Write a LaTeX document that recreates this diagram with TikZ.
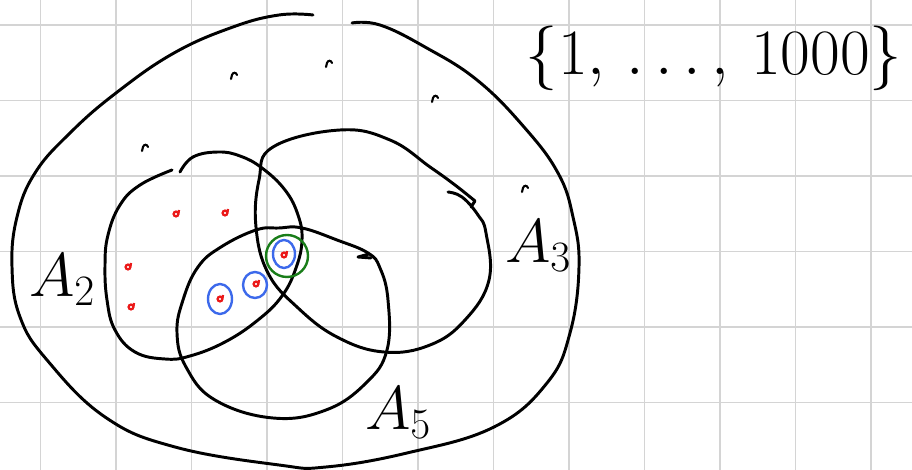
\RequirePackage{fix-cm}
\documentclass[tikz,border=0pt]{standalone}
\definecolor{penblue}{RGB}{60,105,235}
\definecolor{pengreen}{RGB}{25,125,25}
\definecolor{penred}{RGB}{235,25,25}
\definecolor{gridgray}{RGB}{212,212,212}
\begin{document}
\begin{tikzpicture}[x=0.25mm,y=-0.25mm,
  pen/.style={line width=2.1pt, line cap=round, line join=round},
  gridline/.style={draw=gridgray, line width=1.3pt},
  elemmark/.style={line width=1.5pt, line cap=round},
  redmark/.style={draw=penred, line width=1.6pt},
  bluering/.style={draw=penblue, line width=1.7pt},
  greenring/.style={draw=pengreen, line width=1.7pt},
  setlabel/.style={inner sep=0pt, font=\fontsize{44}{48}\selectfont}]
\useasboundingbox (0,0) rectangle (912,470);
\fill[white] (0,0) rectangle (912,470);
\foreach \gx in {0,...,11} \draw[gridline] (40.5+75.5*\gx,0) -- (40.5+75.5*\gx,470);
\foreach \gy in {0,...,5} \draw[gridline] (0,25+75.5*\gy) -- (912,25+75.5*\gy);
\draw[pen] plot[smooth, tension=0.7] coordinates {(352,23) (380,25) (425,47) (477,80) (524,127) (558,173) (573,217) (579,267) (570,333) (547,383) (494,427) (407,453) (326,467) (279,465) (175,447) (105,417) (47,360) (20,317) (12,267) (17,217) (35,173) (70,133) (116,93) (174,53) (233,27) (279,15) (313,15)};
\draw[pen] plot[smooth, tension=0.7] coordinates {(180,172) (193,157) (218,152) (240,156) (262,168) (285,190) (298,215) (302,240) (296,268) (282,296) (258,320) (225,342) (190,356) (165,359) (135,352) (115,330) (107,300) (105,265) (108,235) (120,205) (140,185) (172,170)};
\draw[pen] plot[smooth, tension=0.7] coordinates {(448,192) (462,197) (478,215) (486,233) (489,280) (465,320) (430,345) (384,352) (337,337) (297,307) (268,273) (256,227) (259,180) (273,147) (340,130) (390,140) (430,167) (455,185) (475,201)} -- (471,207);
\draw[pen] plot[smooth cycle, tension=0.7] coordinates {(279,228) (302,228) (337,240) (368,253) (380,268) (388,300) (387,350) (366,383) (326,410) (273,418) (215,400) (186,367) (177,333) (183,300) (198,267) (221,247) (256,230)};
\draw[pen] (369,254) -- (358,257) -- (371,258);
\foreach \mx/\my in {233/74, 328/62, 434/97, 144/146, 524/187}
  \draw[elemmark] (\mx-2,\my+5) -- (\mx-1,\my+1) .. controls (\mx,\my-2) and (\mx+3,\my-2) .. (\mx+4,\my+1);
\foreach \rx/\ry in {176/214, 225/213, 128/267, 131/307, 284/255, 256/284, 220/299}
  \draw[redmark] (\rx,\ry) circle (2.4) (\rx+2.4,\ry) -- (\rx+3,\ry-4);
\draw[greenring] (287,256) circle (21);
\draw[bluering] (284,254) ellipse (11 and 14);
\draw[bluering] (255,285) ellipse (12 and 13);
\draw[bluering] (220,299) ellipse (12 and 15);
\node[setlabel] (labelA2) at (62,280) {$A_2$};
\node[setlabel] (labelA3) at (538,246) {$A_3$};
\node[setlabel] (labelA5) at (398,413) {$A_5$};
\node[setlabel, font=\fontsize{46}{50}\selectfont] (universe) at (714,58) {$\{1,\,\dots,\,1000\}$};
\end{tikzpicture}
\end{document}
